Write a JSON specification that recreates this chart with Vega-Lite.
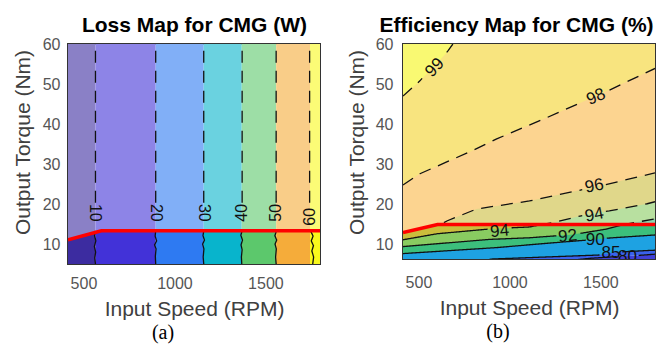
{
  "$schema": "https://vega.github.io/schema/vega-lite/v6.json",
  "background": "white",
  "autosize": {"type": "pad"},
  "padding": {"left": 11, "top": 13, "right": 0, "bottom": 0},
  "bounds": "flush",
  "spacing": 83,
  "config": {
    "view": {"stroke": "#333333", "strokeWidth": 2},
    "axis": {"grid": false, "ticks": false, "domain": false, "labelFont": "Liberation Sans", "labelFontSize": 16, "labelColor": "#555555", "titleFont": "Liberation Sans", "titleFontSize": 21, "titleFontWeight": "normal", "titleColor": "#404040"},
    "text": {"font": "Liberation Sans", "fontSize": 16, "color": "#111111"}
  },
  "datasets": {
    "bandsA": [
      {"band": "<10", "x0": 415, "x1": 566},
      {"band": "10-20", "x0": 566, "x1": 897},
      {"band": "20-30", "x0": 897, "x1": 1161},
      {"band": "30-40", "x0": 1161, "x1": 1370},
      {"band": "40-50", "x0": 1370, "x1": 1559},
      {"band": "50-60", "x0": 1559, "x1": 1745},
      {"band": ">60", "x0": 1745, "x1": 1800}
    ],
    "linesA": [
      {"level": 10, "seg": "10a", "part": "above", "rpm": 566, "torque": 20.5},
      {"level": 10, "seg": "10a", "part": "above", "rpm": 566, "torque": 60},
      {"level": 10, "seg": "10b", "part": "below", "rpm": 566, "torque": 13.5},
      {"level": 10, "seg": "10b", "part": "below", "rpm": 561, "torque": 12.3},
      {"level": 10, "seg": "10b", "part": "below", "rpm": 568, "torque": 11.0},
      {"level": 10, "seg": "10b", "part": "below", "rpm": 560, "torque": 9.6},
      {"level": 10, "seg": "10b", "part": "below", "rpm": 567, "torque": 8.2},
      {"level": 10, "seg": "10b", "part": "below", "rpm": 562, "torque": 6.8},
      {"level": 10, "seg": "10b", "part": "below", "rpm": 566, "torque": 5.25},
      {"level": 20, "seg": "20a", "part": "above", "rpm": 897, "torque": 20.5},
      {"level": 20, "seg": "20a", "part": "above", "rpm": 897, "torque": 60},
      {"level": 20, "seg": "20b", "part": "below", "rpm": 897, "torque": 13.5},
      {"level": 20, "seg": "20b", "part": "below", "rpm": 894, "torque": 12.2},
      {"level": 20, "seg": "20b", "part": "below", "rpm": 902, "torque": 11.0},
      {"level": 20, "seg": "20b", "part": "below", "rpm": 891, "torque": 10.0},
      {"level": 20, "seg": "20b", "part": "below", "rpm": 899, "torque": 9.0},
      {"level": 20, "seg": "20b", "part": "below", "rpm": 895, "torque": 7.2},
      {"level": 20, "seg": "20b", "part": "below", "rpm": 897, "torque": 5.25},
      {"level": 30, "seg": "30a", "part": "above", "rpm": 1161, "torque": 20.5},
      {"level": 30, "seg": "30a", "part": "above", "rpm": 1161, "torque": 60},
      {"level": 30, "seg": "30b", "part": "below", "rpm": 1161, "torque": 13.5},
      {"level": 30, "seg": "30b", "part": "below", "rpm": 1157, "torque": 12.3},
      {"level": 30, "seg": "30b", "part": "below", "rpm": 1165, "torque": 11.2},
      {"level": 30, "seg": "30b", "part": "below", "rpm": 1155, "torque": 10.2},
      {"level": 30, "seg": "30b", "part": "below", "rpm": 1162, "torque": 9.0},
      {"level": 30, "seg": "30b", "part": "below", "rpm": 1158, "torque": 7.0},
      {"level": 30, "seg": "30b", "part": "below", "rpm": 1161, "torque": 5.25},
      {"level": 40, "seg": "40a", "part": "above", "rpm": 1372, "torque": 20.5},
      {"level": 40, "seg": "40a", "part": "above", "rpm": 1372, "torque": 60},
      {"level": 40, "seg": "40b", "part": "below", "rpm": 1372, "torque": 13.5},
      {"level": 40, "seg": "40b", "part": "below", "rpm": 1365, "torque": 12.4},
      {"level": 40, "seg": "40b", "part": "below", "rpm": 1374, "torque": 11.2},
      {"level": 40, "seg": "40b", "part": "below", "rpm": 1366, "torque": 10.0},
      {"level": 40, "seg": "40b", "part": "below", "rpm": 1372, "torque": 8.8},
      {"level": 40, "seg": "40b", "part": "below", "rpm": 1368, "torque": 7.0},
      {"level": 40, "seg": "40b", "part": "below", "rpm": 1370, "torque": 5.25},
      {"level": 50, "seg": "50a", "part": "above", "rpm": 1559, "torque": 20.5},
      {"level": 50, "seg": "50a", "part": "above", "rpm": 1559, "torque": 60},
      {"level": 50, "seg": "50b", "part": "below", "rpm": 1561, "torque": 13.5},
      {"level": 50, "seg": "50b", "part": "below", "rpm": 1552, "torque": 12.3},
      {"level": 50, "seg": "50b", "part": "below", "rpm": 1562, "torque": 11.2},
      {"level": 50, "seg": "50b", "part": "below", "rpm": 1553, "torque": 10.2},
      {"level": 50, "seg": "50b", "part": "below", "rpm": 1560, "torque": 9.0},
      {"level": 50, "seg": "50b", "part": "below", "rpm": 1556, "torque": 7.0},
      {"level": 50, "seg": "50b", "part": "below", "rpm": 1559, "torque": 5.25},
      {"level": 60, "seg": "60a", "part": "above", "rpm": 1743, "torque": 20.5},
      {"level": 60, "seg": "60a", "part": "above", "rpm": 1743, "torque": 60},
      {"level": 60, "seg": "60b", "part": "below", "rpm": 1748, "torque": 13.5},
      {"level": 60, "seg": "60b", "part": "below", "rpm": 1762, "torque": 12.2},
      {"level": 60, "seg": "60b", "part": "below", "rpm": 1752, "torque": 11.0},
      {"level": 60, "seg": "60b", "part": "below", "rpm": 1764, "torque": 9.8},
      {"level": 60, "seg": "60b", "part": "below", "rpm": 1755, "torque": 8.5},
      {"level": 60, "seg": "60b", "part": "below", "rpm": 1765, "torque": 7.0},
      {"level": 60, "seg": "60b", "part": "below", "rpm": 1760, "torque": 5.25}
    ],
    "labelsA": [
      {"label": "10", "rpm": 566, "torque": 18},
      {"label": "20", "rpm": 897, "torque": 18},
      {"label": "30", "rpm": 1161, "torque": 18},
      {"label": "40", "rpm": 1372, "torque": 18},
      {"label": "50", "rpm": 1559, "torque": 18},
      {"label": "60", "rpm": 1743, "torque": 17}
    ],
    "redA": [
      {"rpm": 415, "torque": 11.25},
      {"rpm": 598, "torque": 13.5},
      {"rpm": 1800, "torque": 13.5}
    ],
    "fillB": [
      {"level": 80, "rpm": 415, "torque": 3.0},
      {"level": 80, "rpm": 1300, "torque": 5.8},
      {"level": 80, "rpm": 1450, "torque": 6.5},
      {"level": 80, "rpm": 1590, "torque": 6.9},
      {"level": 80, "rpm": 1700, "torque": 7.2},
      {"level": 80, "rpm": 1800, "torque": 7.5},
      {"level": 85, "rpm": 415, "torque": 4.0},
      {"level": 85, "rpm": 800, "torque": 5.6},
      {"level": 85, "rpm": 908, "torque": 6.3},
      {"level": 85, "rpm": 1200, "torque": 6.8},
      {"level": 85, "rpm": 1494, "torque": 7.3},
      {"level": 85, "rpm": 1553, "torque": 7.8},
      {"level": 85, "rpm": 1620, "torque": 8.1},
      {"level": 85, "rpm": 1800, "torque": 8.5},
      {"level": 90, "rpm": 415, "torque": 7.65},
      {"level": 90, "rpm": 930, "torque": 9.15},
      {"level": 90, "rpm": 1200, "torque": 10.2},
      {"level": 90, "rpm": 1420, "torque": 11.0},
      {"level": 90, "rpm": 1477, "torque": 11.2},
      {"level": 90, "rpm": 1549, "torque": 11.6},
      {"level": 90, "rpm": 1800, "torque": 12.3},
      {"level": 92, "rpm": 415, "torque": 9.4},
      {"level": 92, "rpm": 891, "torque": 11.2},
      {"level": 92, "rpm": 1110, "torque": 11.6},
      {"level": 92, "rpm": 1258, "torque": 12.1},
      {"level": 92, "rpm": 1326, "torque": 12.3},
      {"level": 92, "rpm": 1400, "torque": 12.8},
      {"level": 92, "rpm": 1537, "torque": 13.8},
      {"level": 92, "rpm": 1620, "torque": 14.8},
      {"level": 92, "rpm": 1686, "torque": 15.4},
      {"level": 92, "rpm": 1800, "torque": 16.3},
      {"level": 94, "rpm": 415, "torque": 11.1},
      {"level": 94, "rpm": 601, "torque": 12.6},
      {"level": 94, "rpm": 891, "torque": 13.8},
      {"level": 94, "rpm": 946, "torque": 13.9},
      {"level": 94, "rpm": 1012, "torque": 14.1},
      {"level": 94, "rpm": 1110, "torque": 14.3},
      {"level": 94, "rpm": 1231, "torque": 15.3},
      {"level": 94, "rpm": 1395, "torque": 17.1},
      {"level": 94, "rpm": 1466, "torque": 17.7},
      {"level": 94, "rpm": 1549, "torque": 18.3},
      {"level": 94, "rpm": 1757, "torque": 20.1},
      {"level": 94, "rpm": 1800, "torque": 20.6},
      {"level": 96, "rpm": 415, "torque": 12.9},
      {"level": 96, "rpm": 605, "torque": 14.9},
      {"level": 96, "rpm": 656, "torque": 15.8},
      {"level": 96, "rpm": 820, "torque": 18.8},
      {"level": 96, "rpm": 1110, "torque": 20.8},
      {"level": 96, "rpm": 1466, "torque": 24.3},
      {"level": 96, "rpm": 1800, "torque": 27.8},
      {"level": 98, "rpm": 415, "torque": 24.8},
      {"level": 98, "rpm": 508, "torque": 27.6},
      {"level": 98, "rpm": 793, "torque": 33.3},
      {"level": 98, "rpm": 930, "torque": 36.3},
      {"level": 98, "rpm": 1200, "torque": 41.5},
      {"level": 98, "rpm": 1476, "torque": 47.0},
      {"level": 98, "rpm": 1800, "torque": 53.9},
      {"level": 99, "rpm": 415, "torque": 47.0},
      {"level": 99, "rpm": 508, "torque": 50.8},
      {"level": 99, "rpm": 585, "torque": 54.3},
      {"level": 99, "rpm": 661, "torque": 58.2},
      {"level": 99, "rpm": 689, "torque": 60},
      {"level": 99, "rpm": 1800, "torque": 60}
    ],
    "linesB": [
      {"level": 99, "seg": "99a", "part": "above", "rpm": 415, "torque": 47.0},
      {"level": 99, "seg": "99a", "part": "above", "rpm": 508, "torque": 50.8},
      {"level": 99, "seg": "99a", "part": "above", "rpm": 520, "torque": 51.4},
      {"level": 99, "seg": "99b", "part": "above", "rpm": 655, "torque": 57.9},
      {"level": 99, "seg": "99b", "part": "above", "rpm": 661, "torque": 58.2},
      {"level": 99, "seg": "99b", "part": "above", "rpm": 689, "torque": 60},
      {"level": 98, "seg": "98a", "part": "above", "rpm": 415, "torque": 24.8},
      {"level": 98, "seg": "98a", "part": "above", "rpm": 508, "torque": 27.6},
      {"level": 98, "seg": "98a", "part": "above", "rpm": 793, "torque": 33.3},
      {"level": 98, "seg": "98a", "part": "above", "rpm": 930, "torque": 36.3},
      {"level": 98, "seg": "98a", "part": "above", "rpm": 1200, "torque": 41.5},
      {"level": 98, "seg": "98a", "part": "above", "rpm": 1405, "torque": 45.6},
      {"level": 98, "seg": "98b", "part": "above", "rpm": 1550, "torque": 48.5},
      {"level": 98, "seg": "98b", "part": "above", "rpm": 1800, "torque": 53.9},
      {"level": 96, "seg": "96a", "part": "above", "rpm": 640, "torque": 15.4},
      {"level": 96, "seg": "96a", "part": "above", "rpm": 656, "torque": 15.8},
      {"level": 96, "seg": "96a", "part": "above", "rpm": 820, "torque": 18.8},
      {"level": 96, "seg": "96a", "part": "above", "rpm": 1110, "torque": 20.8},
      {"level": 96, "seg": "96a", "part": "above", "rpm": 1400, "torque": 23.6},
      {"level": 96, "seg": "96b", "part": "above", "rpm": 1530, "torque": 24.9},
      {"level": 96, "seg": "96b", "part": "above", "rpm": 1800, "torque": 27.8},
      {"level": 94, "seg": "94a", "part": "below", "rpm": 415, "torque": 11.1},
      {"level": 94, "seg": "94a", "part": "below", "rpm": 601, "torque": 12.6},
      {"level": 94, "seg": "94a", "part": "below", "rpm": 880, "torque": 13.75},
      {"level": 94, "seg": "94b", "part": "below", "rpm": 1012, "torque": 14.1},
      {"level": 94, "seg": "94b", "part": "below", "rpm": 1110, "torque": 14.3},
      {"level": 94, "seg": "94b", "part": "below", "rpm": 1165, "torque": 14.8},
      {"level": 94, "seg": "94c", "part": "above", "rpm": 1165, "torque": 14.8},
      {"level": 94, "seg": "94c", "part": "above", "rpm": 1231, "torque": 15.3},
      {"level": 94, "seg": "94c", "part": "above", "rpm": 1395, "torque": 17.1},
      {"level": 94, "seg": "94c", "part": "above", "rpm": 1400, "torque": 17.15},
      {"level": 94, "seg": "94d", "part": "above", "rpm": 1530, "torque": 18.2},
      {"level": 94, "seg": "94d", "part": "above", "rpm": 1549, "torque": 18.3},
      {"level": 94, "seg": "94d", "part": "above", "rpm": 1757, "torque": 20.1},
      {"level": 94, "seg": "94d", "part": "above", "rpm": 1800, "torque": 20.6},
      {"level": 92, "seg": "92a", "part": "below", "rpm": 415, "torque": 9.4},
      {"level": 92, "seg": "92a", "part": "below", "rpm": 891, "torque": 11.2},
      {"level": 92, "seg": "92a", "part": "below", "rpm": 1110, "torque": 11.6},
      {"level": 92, "seg": "92a", "part": "below", "rpm": 1258, "torque": 12.1},
      {"level": 92, "seg": "92b", "part": "below", "rpm": 1390, "torque": 12.7},
      {"level": 92, "seg": "92b", "part": "below", "rpm": 1537, "torque": 13.8},
      {"level": 92, "seg": "92b", "part": "below", "rpm": 1620, "torque": 14.8},
      {"level": 92, "seg": "92c", "part": "above", "rpm": 1620, "torque": 14.8},
      {"level": 92, "seg": "92c", "part": "above", "rpm": 1686, "torque": 15.4},
      {"level": 92, "seg": "92c", "part": "above", "rpm": 1800, "torque": 16.3},
      {"level": 90, "seg": "90a", "part": "below", "rpm": 415, "torque": 7.65},
      {"level": 90, "seg": "90a", "part": "below", "rpm": 930, "torque": 9.15},
      {"level": 90, "seg": "90a", "part": "below", "rpm": 1200, "torque": 10.2},
      {"level": 90, "seg": "90a", "part": "below", "rpm": 1420, "torque": 11.0},
      {"level": 90, "seg": "90b", "part": "below", "rpm": 1535, "torque": 11.5},
      {"level": 90, "seg": "90b", "part": "below", "rpm": 1800, "torque": 12.3},
      {"level": 85, "seg": "85a", "part": "below", "rpm": 800, "torque": 5.6},
      {"level": 85, "seg": "85a", "part": "below", "rpm": 908, "torque": 6.3},
      {"level": 85, "seg": "85a", "part": "below", "rpm": 1200, "torque": 6.8},
      {"level": 85, "seg": "85a", "part": "below", "rpm": 1495, "torque": 7.3},
      {"level": 85, "seg": "85b", "part": "below", "rpm": 1620, "torque": 8.1},
      {"level": 85, "seg": "85b", "part": "below", "rpm": 1800, "torque": 8.5},
      {"level": 80, "seg": "80a", "part": "below", "rpm": 1300, "torque": 5.8},
      {"level": 80, "seg": "80a", "part": "below", "rpm": 1450, "torque": 6.5},
      {"level": 80, "seg": "80a", "part": "below", "rpm": 1590, "torque": 6.9},
      {"level": 80, "seg": "80b", "part": "below", "rpm": 1710, "torque": 7.2},
      {"level": 80, "seg": "80b", "part": "below", "rpm": 1800, "torque": 7.5}
    ],
    "labelsB": [
      {"id": "99", "label": "99", "rpm": 590, "torque": 54.1},
      {"id": "98", "label": "98", "rpm": 1476, "torque": 46.8},
      {"id": "96", "label": "96", "rpm": 1466, "torque": 24.5},
      {"id": "94u", "label": "94", "rpm": 1466, "torque": 17.3},
      {"id": "94l", "label": "94", "rpm": 946, "torque": 13.2},
      {"id": "92", "label": "92", "rpm": 1320, "torque": 12.0},
      {"id": "90", "label": "90", "rpm": 1471, "torque": 11.1},
      {"id": "85", "label": "85", "rpm": 1558, "torque": 7.7},
      {"id": "80", "label": "80", "rpm": 1649, "torque": 6.8}
    ],
    "redB": [
      {"rpm": 415, "torque": 12.9},
      {"rpm": 605, "torque": 14.9},
      {"rpm": 1800, "torque": 14.9}
    ]
  },
  "hconcat": [
    {
      "width": 252,
      "height": 220,
      "title": {"text": "(a)", "orient": "bottom", "font": "Liberation Serif", "fontSize": 20, "fontWeight": "normal", "color": "#000000", "dx": -31, "offset": 4},
      "resolve": {"axis": {"x": "independent", "y": "independent"}},
      "layer": [
        {
          "data": {"name": "bandsA"},
          "mark": {"type": "rect", "clip": true},
          "encoding": {
            "x": {"field": "x0", "type": "quantitative", "scale": {"domain": [415, 1800], "nice": false, "zero": false}, "axis": {"values": [500, 1000, 1500], "format": "d", "title": "Input Speed (RPM)", "labelPadding": 11, "titlePadding": 7}},
            "x2": {"field": "x1"},
            "y": {"datum": 5.25, "type": "quantitative", "scale": {"domain": [5.25, 60], "nice": false, "zero": false}, "axis": {"values": [10, 20, 30, 40, 50, 60], "title": "Output Torque (Nm)", "labelPadding": 8, "titlePadding": 9, "titleY": 98}},
            "y2": {"datum": 60},
            "color": {"field": "band", "type": "nominal", "scale": {"domain": ["<10", "10-20", "20-30", "30-40", "40-50", "50-60", ">60"], "range": ["#3c2ca0", "#4232d8", "#2e7af2", "#08b4cc", "#5cc86c", "#f5ac3a", "#f8f81c"]}, "legend": null}
          }
        },
        {
          "data": {"name": "redA"},
          "mark": {"type": "area", "color": "#ffffff", "opacity": 0.4, "clip": true, "orient": "vertical"},
          "encoding": {
            "x": {"field": "rpm", "type": "quantitative", "axis": null},
            "y": {"field": "torque", "type": "quantitative", "axis": null},
            "y2": {"datum": 60}
          }
        },
        {
          "data": {"name": "linesA"},
          "mark": {"type": "line", "color": "#111111", "strokeWidth": 1.3, "clip": true},
          "encoding": {
            "x": {"field": "rpm", "type": "quantitative", "axis": null},
            "y": {"field": "torque", "type": "quantitative", "axis": null},
            "detail": {"field": "seg"},
            "order": {"field": "torque", "type": "quantitative"},
            "strokeDash": {"field": "part", "type": "nominal", "scale": {"domain": ["above", "below"], "range": [[12, 8], [1, 0]]}, "legend": null}
          }
        },
        {
          "data": {"name": "redA"},
          "mark": {"type": "line", "color": "#ff0000", "strokeWidth": 3.5, "clip": true},
          "encoding": {
            "x": {"field": "rpm", "type": "quantitative", "axis": {"orient": "top", "labels": false, "title": "Loss Map for CMG (W)", "titleFontWeight": "bold", "titleColor": "#000000", "titleFontSize": 21, "titlePadding": 9}},
            "y": {"field": "torque", "type": "quantitative", "axis": null}
          }
        },
        {
          "data": {"name": "labelsA"},
          "transform": [{"filter": "datum.rpm < 1300"}],
          "mark": {"type": "text", "angle": 90, "align": "center", "baseline": "middle"},
          "encoding": {
            "x": {"field": "rpm", "type": "quantitative", "axis": null},
            "y": {"field": "torque", "type": "quantitative", "axis": null},
            "text": {"field": "label"}
          }
        },
        {
          "data": {"name": "labelsA"},
          "transform": [{"filter": "datum.rpm >= 1300"}],
          "mark": {"type": "text", "angle": 270, "align": "center", "baseline": "middle"},
          "encoding": {
            "x": {"field": "rpm", "type": "quantitative", "axis": null},
            "y": {"field": "torque", "type": "quantitative", "axis": null},
            "text": {"field": "label"}
          }
        }
      ]
    },
    {
      "width": 252,
      "height": 215,
      "title": {"text": "(b)", "orient": "bottom", "font": "Liberation Serif", "fontSize": 20, "fontWeight": "normal", "color": "#000000", "dx": -31, "offset": 4},
      "resolve": {"axis": {"x": "independent", "y": "independent"}},
      "layer": [
        {
          "data": {"name": "fillB"},
          "transform": [{"filter": "datum.level == 80"}],
          "mark": {"type": "area", "color": "#4040d8", "clip": true, "orient": "vertical"},
          "encoding": {
            "x": {"field": "rpm", "type": "quantitative", "scale": {"domain": [415, 1800], "nice": false, "zero": false}, "axis": {"values": [500, 1000, 1500], "format": "d", "title": "Input Speed (RPM)", "labelPadding": 15, "titlePadding": 7}},
            "y": {"field": "torque", "type": "quantitative", "scale": {"domain": [6.3, 60], "nice": false, "zero": false}, "axis": {"values": [10, 20, 30, 40, 50, 60], "title": "Output Torque (Nm)", "labelPadding": 10, "titlePadding": 8, "titleY": 98}},
            "y2": {"datum": 0}
          }
        },
        {"data": {"name": "fillB"}, "transform": [{"filter": "datum.level == 80"}], "mark": {"type": "area", "color": "#3a62ec", "clip": true, "orient": "vertical"}, "encoding": {"x": {"field": "rpm", "type": "quantitative", "axis": null}, "y": {"field": "torque", "type": "quantitative", "axis": null}, "y2": {"datum": 60}}},
        {"data": {"name": "fillB"}, "transform": [{"filter": "datum.level == 85"}], "mark": {"type": "area", "color": "#1ea2e2", "clip": true, "orient": "vertical"}, "encoding": {"x": {"field": "rpm", "type": "quantitative", "axis": null}, "y": {"field": "torque", "type": "quantitative", "axis": null}, "y2": {"datum": 60}}},
        {"data": {"name": "fillB"}, "transform": [{"filter": "datum.level == 90"}], "mark": {"type": "area", "color": "#3cbf7c", "clip": true, "orient": "vertical"}, "encoding": {"x": {"field": "rpm", "type": "quantitative", "axis": null}, "y": {"field": "torque", "type": "quantitative", "axis": null}, "y2": {"datum": 60}}},
        {"data": {"name": "fillB"}, "transform": [{"filter": "datum.level == 92"}], "mark": {"type": "area", "color": "#89cb61", "clip": true, "orient": "vertical"}, "encoding": {"x": {"field": "rpm", "type": "quantitative", "axis": null}, "y": {"field": "torque", "type": "quantitative", "axis": null}, "y2": {"datum": 60}}},
        {"data": {"name": "fillB"}, "transform": [{"filter": "datum.level == 94"}], "mark": {"type": "area", "color": "#cbbd3c", "clip": true, "orient": "vertical"}, "encoding": {"x": {"field": "rpm", "type": "quantitative", "axis": null}, "y": {"field": "torque", "type": "quantitative", "axis": null}, "y2": {"datum": 60}}},
        {"data": {"name": "fillB"}, "transform": [{"filter": "datum.level == 96"}], "mark": {"type": "area", "color": "#fab746", "clip": true, "orient": "vertical"}, "encoding": {"x": {"field": "rpm", "type": "quantitative", "axis": null}, "y": {"field": "torque", "type": "quantitative", "axis": null}, "y2": {"datum": 60}}},
        {"data": {"name": "fillB"}, "transform": [{"filter": "datum.level == 98"}], "mark": {"type": "area", "color": "#f3d22b", "clip": true, "orient": "vertical"}, "encoding": {"x": {"field": "rpm", "type": "quantitative", "axis": null}, "y": {"field": "torque", "type": "quantitative", "axis": null}, "y2": {"datum": 60}}},
        {"data": {"name": "fillB"}, "transform": [{"filter": "datum.level == 99"}], "mark": {"type": "area", "color": "#f6f514", "clip": true, "orient": "vertical"}, "encoding": {"x": {"field": "rpm", "type": "quantitative", "axis": null}, "y": {"field": "torque", "type": "quantitative", "axis": null}, "y2": {"datum": 60}}},
        {
          "data": {"name": "redB"},
          "mark": {"type": "area", "color": "#ffffff", "opacity": 0.4, "clip": true, "orient": "vertical"},
          "encoding": {
            "x": {"field": "rpm", "type": "quantitative", "axis": null},
            "y": {"field": "torque", "type": "quantitative", "axis": null},
            "y2": {"datum": 60}
          }
        },
        {
          "data": {"name": "linesB"},
          "mark": {"type": "line", "color": "#111111", "strokeWidth": 1.3, "clip": true},
          "encoding": {
            "x": {"field": "rpm", "type": "quantitative", "axis": null},
            "y": {"field": "torque", "type": "quantitative", "axis": null},
            "detail": {"field": "seg"},
            "order": {"field": "rpm", "type": "quantitative"},
            "strokeDash": {"field": "part", "type": "nominal", "scale": {"domain": ["above", "below"], "range": [[12, 8], [1, 0]]}, "legend": null}
          }
        },
        {
          "data": {"name": "redB"},
          "mark": {"type": "line", "color": "#ff0000", "strokeWidth": 3.5, "clip": true},
          "encoding": {
            "x": {"field": "rpm", "type": "quantitative", "axis": {"orient": "top", "labels": false, "title": "Efficiency Map for CMG (%)", "titleFontWeight": "bold", "titleColor": "#000000", "titleFontSize": 21, "titlePadding": 9, "titleX": 113}},
            "y": {"field": "torque", "type": "quantitative", "axis": null}
          }
        },
        {"data": {"name": "labelsB"}, "transform": [{"filter": "datum.id == '99'"}], "mark": {"type": "text", "angle": 313, "align": "center", "baseline": "middle", "clip": true, "fontSize": 17}, "encoding": {"x": {"field": "rpm", "type": "quantitative", "axis": null}, "y": {"field": "torque", "type": "quantitative", "axis": null}, "text": {"field": "label"}}},
        {"data": {"name": "labelsB"}, "transform": [{"filter": "datum.id == '98'"}], "mark": {"type": "text", "angle": 336, "align": "center", "baseline": "middle", "clip": true, "fontSize": 17}, "encoding": {"x": {"field": "rpm", "type": "quantitative", "axis": null}, "y": {"field": "torque", "type": "quantitative", "axis": null}, "text": {"field": "label"}}},
        {"data": {"name": "labelsB"}, "transform": [{"filter": {"field": "id", "oneOf": ["96", "94u"]}}], "mark": {"type": "text", "angle": 349, "align": "center", "baseline": "middle", "clip": true, "fontSize": 17}, "encoding": {"x": {"field": "rpm", "type": "quantitative", "axis": null}, "y": {"field": "torque", "type": "quantitative", "axis": null}, "text": {"field": "label"}}},
        {"data": {"name": "labelsB"}, "transform": [{"filter": {"field": "id", "oneOf": ["94l", "92"]}}], "mark": {"type": "text", "angle": 354, "align": "center", "baseline": "middle", "clip": true, "fontSize": 17}, "encoding": {"x": {"field": "rpm", "type": "quantitative", "axis": null}, "y": {"field": "torque", "type": "quantitative", "axis": null}, "text": {"field": "label"}}},
        {"data": {"name": "labelsB"}, "transform": [{"filter": {"field": "id", "oneOf": ["90", "85", "80"]}}], "mark": {"type": "text", "angle": 0, "align": "center", "baseline": "middle", "clip": true, "fontSize": 17}, "encoding": {"x": {"field": "rpm", "type": "quantitative", "axis": null}, "y": {"field": "torque", "type": "quantitative", "axis": null}, "text": {"field": "label"}}}
      ]
    }
  ]
}
